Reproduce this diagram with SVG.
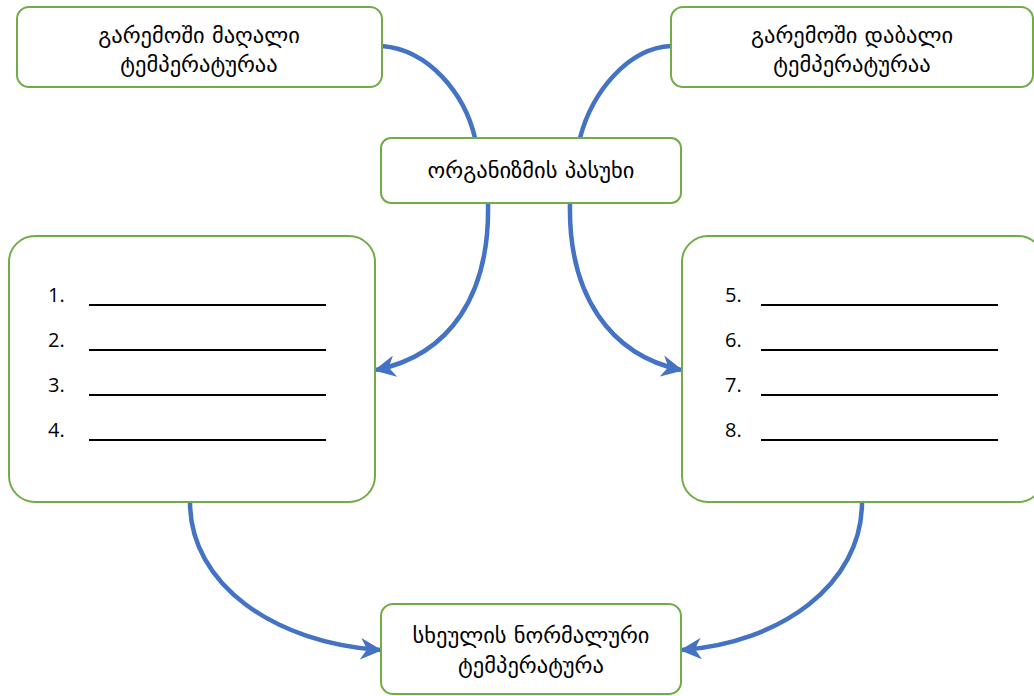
<svg xmlns="http://www.w3.org/2000/svg" width="1034" height="696" viewBox="0 0 1034 696">
<style>
.box{fill:#fff;stroke:#70AD47;stroke-width:2}
.t{font-family:"DejaVu Sans","Noto Sans",sans-serif;font-size:22.5px;fill:#000;text-anchor:middle}
.n{font-family:"Open Sans","Liberation Sans",sans-serif;font-size:20px;fill:#000}
.u{stroke:#000;stroke-width:2}
.c{fill:none;stroke:#4472C4;stroke-width:4.5}
</style>
<defs>
<marker id="ah" viewBox="0 0 10 10" refX="9" refY="5" markerWidth="4.8" markerHeight="4.8" orient="auto" markerUnits="strokeWidth">
<path d="M0,0 L10,5 L0,10 L3,5 Z" fill="#4472C4"/>
</marker>
</defs>
<g id="connectors">
<path class="c" d="M382,46 C430,50 465,95 475,138"/>
<path class="c" d="M671,46 C628,48 592,92 580,138"/>
<path class="c" d="M488,203 C490,295 450,355 376,370" marker-end="url(#ah)"/>
<path class="c" d="M570,203 C568,295 610,355 681,370" marker-end="url(#ah)"/>
<path class="c" d="M190,502 C190,585 275,643 380,650" marker-end="url(#ah)"/>
<path class="c" d="M862,502 C862,585 780,643 682,650" marker-end="url(#ah)"/>
</g>
<g id="high">
<rect class="box" x="17" y="7" width="365" height="80" rx="12"/>
<text class="t" x="199" y="43">გარემოში მაღალი</text>
<text class="t" x="199" y="72">ტემპერატურაა</text>
</g>
<g id="low">
<rect class="box" x="671" y="7" width="362" height="80" rx="12"/>
<text class="t" x="852" y="43">გარემოში დაბალი</text>
<text class="t" x="852" y="72">ტემპერატურაა</text>
</g>
<g id="response">
<rect class="box" x="381" y="138" width="300" height="65" rx="10"/>
<text class="t" x="531" y="178">ორგანიზმის პასუხი</text>
</g>
<g id="left-list">
<rect class="box" x="9" y="236" width="366" height="266" rx="26"/>
<text class="n" x="48" y="302">1.</text>
<text class="n" x="48" y="347">2.</text>
<text class="n" x="48" y="392">3.</text>
<text class="n" x="48" y="437">4.</text>
<line class="u" x1="89" y1="305" x2="326" y2="305"/>
<line class="u" x1="89" y1="350" x2="326" y2="350"/>
<line class="u" x1="89" y1="395" x2="326" y2="395"/>
<line class="u" x1="89" y1="440" x2="326" y2="440"/>
</g>
<g id="right-list">
<rect class="box" x="682" y="236" width="362" height="266" rx="26"/>
<text class="n" x="725" y="302">5.</text>
<text class="n" x="725" y="347">6.</text>
<text class="n" x="725" y="392">7.</text>
<text class="n" x="725" y="437">8.</text>
<line class="u" x1="761" y1="305" x2="998" y2="305"/>
<line class="u" x1="761" y1="350" x2="998" y2="350"/>
<line class="u" x1="761" y1="395" x2="998" y2="395"/>
<line class="u" x1="761" y1="440" x2="998" y2="440"/>
</g>
<g id="normal">
<rect class="box" x="381" y="604" width="300" height="90" rx="12"/>
<text class="t" x="531" y="643">სხეულის ნორმალური</text>
<text class="t" x="531" y="673">ტემპერატურა</text>
</g>
</svg>
